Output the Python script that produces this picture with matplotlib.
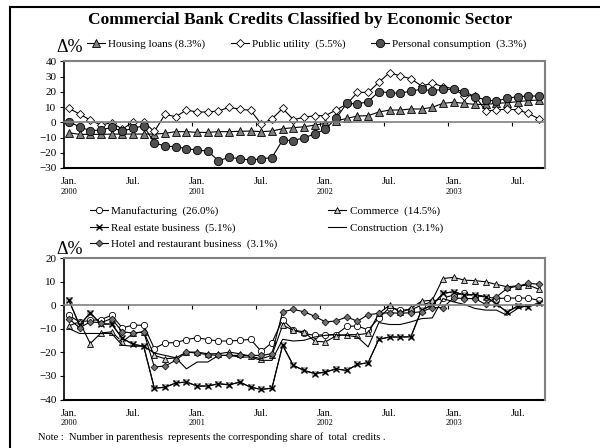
import matplotlib.pyplot as plt
from matplotlib.lines import Line2D

plt.rcParams['font.family'] = ['Liberation Serif', 'DejaVu Serif']

# monthly, Jan 2000 .. Sep 2003 (45 months)
months = list(range(45))
lab_pos = [0, 6, 12, 18, 24, 30, 36, 42]
lab_mon = ['Jan.', 'Jul.', 'Jan.', 'Jul.', 'Jan.', 'Jul.', 'Jan.', 'Jul.']
lab_year = ['2000', '', '2001', '', '2002', '', '2003', '']

housing = [-6.8, -7.9, -7.9, -7.9, -7.7, -7.7, -7.7, -7.7, -7.7, -7.2,
           -6.1, -6.1, -6.6, -6.6, -6.1, -6.1, -5.9, -5.7, -6.1, -5.7,
           -4.2, -3.5, -2.9, -1.8, -0.7, 0.9, 2.6, 4.2, 4.4, 6.8,
           8.1, 8.1, 8.8, 8.8, 9.9, 12.5, 13.2, 12.5, 11.8, 11.8,
           12.5, 12.9, 13.6, 14.3, 14.7]
public = [9.2, 5.5, 1.5, -1.8, -0.2, -4.4, 0, 0.2, -6, 5.3,
          3.7, 8.1, 6.8, 6.8, 7.5, 9.9, 8.6, 7.9, -1.1, 2.2,
          9.2, 1.8, 3.3, 4.4, 4.4, 8.1, 12, 19.7, 19.7, 26.3,
          32.7, 30.5, 28.7, 23.9, 25.7, 23.5, 22.1, 17.5, 17.5, 7.5,
          8.1, 8.8, 8.1, 5.9, 2.2]
personal = [0.4, -2.9, -5.5, -5, -3.3, -6, -3.7, -2.4, -13.4, -15.6,
            -16, -17.3, -18.2, -18.9, -25.2, -23, -23.9, -24.8, -23.9, -23.2,
            -11.6, -12, -10.1, -7.7, -4.4, 2.6, 12.5, 12.1, 13.6, 20.2,
            19.5, 19.1, 20.6, 21.7, 20.8, 21.7, 21.7, 20.2, 16.9, 14.7,
            14, 15.8, 16.9, 17.3, 17.3]

manuf = [-4.3, -7.1, -6.5, -6.1, -4.3, -9.6, -8.5, -8.5, -18.4, -16,
         -15.9, -14.6, -13.8, -14.6, -15.2, -15.2, -14.9, -14.5, -19.6, -15.9,
         -6.1, -10.6, -12, -12.8, -12.5, -12.5, -9, -8.8, -10.5, -5.5,
         -1, -2, -2, 0, 1.5, 3, 4.3, 5, 4, 3.5,
         2.8, 3, 3, 3, 2]
commerce = [-8.8, -7, -16.3, -11.8, -11.3, -15.6, -12, -11.3, -21.3, -22.7,
            -22.4, -19.9, -19.9, -20.6, -20.6, -19.9, -20.6, -21.7, -22.7, -21.3,
            -8.5, -10.6, -11.3, -15.3, -15.6, -13, -12.5, -12.5, -12, -3.5,
            0, -3.1, -1.4, 1.7, 2.1, 11.3, 11.8, 10.6, 10.4, 9.9,
            8.8, 7.8, 8.2, 8.5, 6.7]
realestate = [2.1, -8.5, -3.3, -8, -8, -14, -16.6, -17.4, -35.2, -34.8,
              -33, -32.6, -34.3, -34.3, -33.3, -33.8, -32.6, -34.8, -35.7, -35.2,
              -17, -25.5, -27.7, -29, -28.4, -27, -27.7, -25.1, -24.4, -14.5,
              -13.5, -13.5, -13.4, -2, 0, 5, 5.7, 4.3, 4.5, 3.5,
              0.6, -3, -0.3, -0.7, 1]
construction = [-9.9, -12, -12, -12, -12, -17, -17.4, -17.4, -20.3, -21.3,
                -22.3, -27, -24.1, -24.1, -21.3, -21.3, -22, -22, -23.4, -23.4,
                -14.5, -15.2, -14.9, -13.5, -12.8, -12.5, -12.8, -13.5, -17.7, -7.4,
                -8.2, -8.2, -7.1, -5.7, -5.4, 2.8, 1.4, 0.3, -1.4, -2.1,
                -2.1, -4.3, -1.4, 0, 0]
hotel = [-5.7, -9.6, -7.1, -7.4, -5.7, -11.3, -11.8, -11.3, -26.2, -25.8,
         -23.4, -19.9, -20.3, -21, -21.3, -21.3, -21.3, -21.3, -21.3, -20.6,
         -2.8, -1.8, -2.8, -4.7, -7.1, -6.7, -5, -6.8, -4, -3.5,
         -3.2, -3.4, -3.2, -2.8, -1, -1, 3.1, 2.8, 2.8, 0.3,
         3.5, 7.1, 8.1, 9.2, 8.9]

fig = plt.figure(figsize=(6, 4.48), dpi=100)

# outer frame (top and left)
fig.add_artist(Line2D([10/600, 1], [1-7/448, 1-7/448], color='black', lw=1.5))
fig.add_artist(Line2D([10/600, 10/600], [0, 1-7/448], color='black', lw=1.5))

fig.text(0.5, 1-20/448, 'Commercial Bank Credits Classified by Economic Sector',
         ha='center', va='center', fontsize=12.5, fontweight='bold')


def style_axes(ax, lo, hi):
    ax.set_xlim(-0.5, 44.5)
    ax.set_ylim(lo, hi)
    ax.set_yticks(range(lo, hi + 1, 10))
    ax.tick_params(axis='y', direction='out', length=3, labelsize=8, pad=2)
    for s in ['top', 'right']:
        ax.spines[s].set_color('#808080')
        ax.spines[s].set_linewidth(1.5)
    ax.spines['left'].set_linewidth(1.2)
    # category axis crosses at zero
    ax.spines['bottom'].set_position(('data', 0))
    ax.spines['bottom'].set_color('#808080')
    ax.spines['bottom'].set_linewidth(1.2)
    ax.set_xticks([k * 6 - 0.5 for k in range(1, 8)])
    ax.set_xticklabels([])
    ax.tick_params(axis='x', direction='out', length=3, color='black')
    ax.axhline(lo, color='black', lw=1.5, clip_on=False)
    for p, m, yr in zip(lab_pos, lab_mon, lab_year):
        ax.annotate(m, (p, 0), xycoords=('data', 'axes fraction'),
                    xytext=(0, -10), textcoords='offset points',
                    ha='center', va='center', fontsize=7.5)
        if yr:
            ax.annotate(yr, (p, 0), xycoords=('data', 'axes fraction'),
                        xytext=(0, -17), textcoords='offset points',
                        ha='center', va='center', fontsize=6)


# top panel
ax1 = fig.add_axes([63.5/600, 1-168/448, 481/600, 106.5/448])
l1, = ax1.plot(months, housing, color='black', lw=0.8, marker='^', ms=5.5,
               mfc='#808080', mec='black', mew=0.6)
l2, = ax1.plot(months, public, color='black', lw=0.8, marker='D', ms=3.8,
               mfc='white', mec='black', mew=0.6)
l3, = ax1.plot(months, personal, color='black', lw=0.8, marker='o', ms=6,
               mfc='#505050', mec='black', mew=0.6)
style_axes(ax1, -30, 40)
fig.legend([l1, l2, l3], ['Housing loans (8.3%)', 'Public utility  (5.5%)',
                          'Personal consumption  (3.3%)'],
           loc='center left', bbox_to_anchor=(87/600, 1-44/448), ncol=3,
           frameon=False, fontsize=8, handlelength=1.6, handletextpad=0.3,
           columnspacing=2.3, borderaxespad=0, borderpad=0)
fig.text(56/600, 1-47/448, 'Δ%', fontsize=13, va='center', ha='left')

# bottom panel
ax2 = fig.add_axes([63.5/600, 1-399.5/448, 481/600, 141.5/448])
b1, = ax2.plot(months, manuf, color='black', lw=0.8, marker='o', ms=4.5,
               mfc='white', mec='black', mew=0.6)
b2, = ax2.plot(months, commerce, color='black', lw=0.8, marker='^', ms=5,
               mfc='#c8c8c8', mec='black', mew=0.6)
sq, = ax2.plot(months, realestate, color='black', lw=0.8, marker='s', ms=5,
               mfc='#b4b4b4', mec='none', mew=0)
b3, = ax2.plot(months, realestate, color='black', lw=0.8, marker='x', ms=4.5,
               mec='black', mew=1.0)
b4, = ax2.plot(months, construction, color='black', lw=0.8)
b5, = ax2.plot(months, hotel, color='black', lw=0.8, marker='D', ms=3.5,
               mfc='#707070', mec='black', mew=0.5)
style_axes(ax2, -40, 20)
fig.legend([b1, b3, b5, b2, b4],
           ['Manufacturing  (26.0%)', 'Real estate business  (5.1%)',
            'Hotel and restaurant business  (3.1%)', 'Commerce  (14.5%)',
            'Construction  (3.1%)'],
           loc='upper left', bbox_to_anchor=(90/600, 1-206/448), ncol=2,
           frameon=False, fontsize=8, handlelength=1.6, handletextpad=0.3,
           columnspacing=4.6, labelspacing=0.6, borderaxespad=0, borderpad=0)
fig.text(56/600, 1-249/448, 'Δ%', fontsize=13, va='center', ha='left')

fig.text(38/600, 1-437/448,
         'Note :  Number in parenthesis  represents the corresponding share of  total  credits .',
         fontsize=7.5, va='center', ha='left')

fig.savefig('out.png', dpi=100)
